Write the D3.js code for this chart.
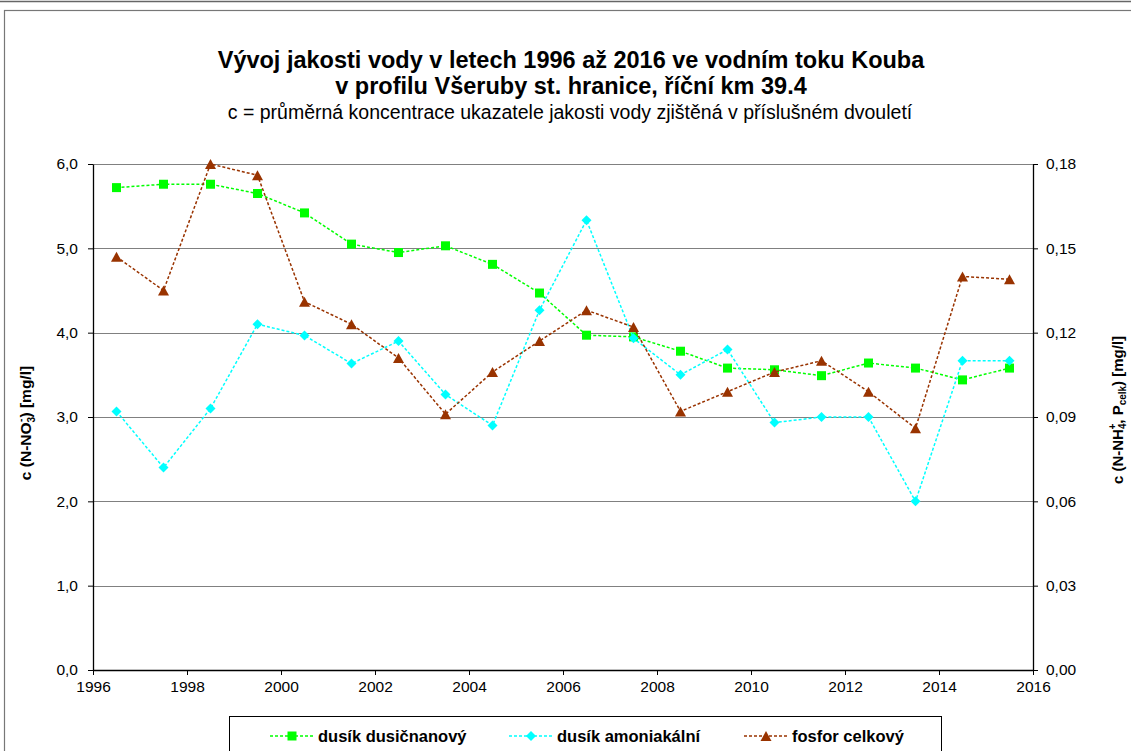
<!DOCTYPE html>
<html>
<head>
<meta charset="utf-8">
<script src="https://cdn.jsdelivr.net/npm/d3@7"></script>
<style>
  html, body { margin: 0; padding: 0; background: #fff; }
  svg { display: block; font-family: "Liberation Sans", Arial, sans-serif; }
</style>
</head>
<body>
<div id="chart"></div>
<script>
/* ---- data ---- */

// mid-points of the two-year periods
const periods = [1996.5, 1997.5, 1998.5, 1999.5, 2000.5, 2001.5, 2002.5, 2003.5, 2004.5, 2005.5,
                 2006.5, 2007.5, 2008.5, 2009.5, 2010.5, 2011.5, 2012.5, 2013.5, 2014.5, 2015.5];

// left axis: dusík dusičnanový [mg/l]
const nitrate = [5.72, 5.76, 5.76, 5.65, 5.42, 5.05, 4.95, 5.03, 4.81, 4.47,
                 3.97, 3.95, 3.78, 3.58, 3.56, 3.49, 3.64, 3.58, 3.44, 3.58];

// right axis: dusík amoniakální [mg/l]
const ammonia = [0.092, 0.072, 0.093, 0.123, 0.119, 0.109, 0.117, 0.098, 0.087, 0.128,
                 0.160, 0.118, 0.105, 0.114, 0.088, 0.090, 0.090, 0.060, 0.110, 0.110];

// right axis: fosfor celkový [mg/l]
const phosphorus = [0.147, 0.135, 0.180, 0.176, 0.131, 0.123, 0.111, 0.091, 0.106, 0.117,
                    0.128, 0.122, 0.092, 0.099, 0.106, 0.110, 0.099, 0.086, 0.140, 0.139];

const xTicks = [1996, 1998, 2000, 2002, 2004, 2006, 2008, 2010, 2012, 2014, 2016];
const leftTicks = [0, 1, 2, 3, 4, 5, 6];
const rightTicks = [0, 0.03, 0.06, 0.09, 0.12, 0.15, 0.18];

const titleLines = [
  "Vývoj jakosti vody v letech 1996 až 2016 ve vodním toku Kouba",
  "v profilu Všeruby st. hranice, říční km 39.4"
];
const subtitle = "c = průměrná koncentrace ukazatele jakosti vody zjištěná v příslušném dvouletí";

const series = [
  { name: "dusík dusičnanový", values: nitrate, axis: "left", color: "#00ff00", marker: "square" },
  { name: "dusík amoniakální", values: ammonia, axis: "right", color: "#00ffff", marker: "diamond" },
  { name: "fosfor celkový", values: phosphorus, axis: "right", color: "#993300", marker: "triangle" }
];

/* ---- setup ---- */

const width = 1131, height = 751;
const plot = { left: 93, right: 1033, top: 164, bottom: 670 };

const svg = d3.select("#chart").append("svg")
  .attr("width", width)
  .attr("height", height);

// outer frame
svg.append("line")
  .attr("x1", 0).attr("x2", width).attr("y1", 1.5).attr("y2", 1.5)
  .attr("stroke", "#666").attr("stroke-width", 1.5);
svg.append("rect")
  .attr("x", 4.5).attr("y", 10.5).attr("width", width + 10).attr("height", height)
  .attr("fill", "none").attr("stroke", "#777").attr("stroke-width", 1.2);

const x = d3.scaleLinear().domain([1996, 2016]).range([plot.left, plot.right]);
const yLeft = d3.scaleLinear().domain([0, 6]).range([plot.bottom, plot.top]);
const yRight = d3.scaleLinear().domain([0, 0.18]).range([plot.bottom, plot.top]);

/* ---- titles ---- */

svg.append("text")
  .attr("x", 571).attr("y", 68)
  .attr("text-anchor", "middle")
  .style("font-size", "23.5px").style("font-weight", "bold")
  .text(titleLines[0]);
svg.append("text")
  .attr("x", 571).attr("y", 94)
  .attr("text-anchor", "middle")
  .style("font-size", "23.5px").style("font-weight", "bold")
  .text(titleLines[1]);
svg.append("text")
  .attr("x", 570).attr("y", 119)
  .attr("text-anchor", "middle")
  .style("font-size", "19.5px")
  .text(subtitle);

/* ---- grid ---- */

svg.append("g")
  .selectAll("line")
  .data(leftTicks.filter(d => d > 0))
  .join("line")
  .attr("x1", plot.left).attr("x2", plot.right)
  .attr("y1", d => Math.round(yLeft(d)) + 0.5)
  .attr("y2", d => Math.round(yLeft(d)) + 0.5)
  .attr("stroke", "#808080").attr("stroke-width", 1.2);

/* ---- axes ---- */

const fmtLeft = d => d3.format(".1f")(d).replace(".", ",");
const fmtRight = d => d3.format(".2f")(d).replace(".", ",");

const axisStyle = g => {
  g.select(".domain").attr("stroke", "#000").attr("stroke-width", 1.3);
  g.selectAll(".tick line").attr("stroke", "#000");
  g.selectAll(".tick text")
    .style("font-size", "15.5px")
    .style("font-family", "'Liberation Sans', Arial, sans-serif")
    .attr("fill", "#000");
};

svg.append("g")
  .attr("transform", `translate(${plot.left},0)`)
  .call(d3.axisLeft(yLeft).tickValues(leftTicks).tickFormat(fmtLeft).tickSize(5).tickSizeOuter(0).tickPadding(10))
  .call(axisStyle);

svg.append("g")
  .attr("transform", `translate(${plot.right},0)`)
  .call(d3.axisRight(yRight).tickValues(rightTicks).tickFormat(fmtRight).tickSize(5).tickSizeOuter(0).tickPadding(8))
  .call(axisStyle);

svg.append("g")
  .attr("transform", `translate(0,${plot.bottom})`)
  .call(d3.axisBottom(x).tickValues(xTicks).tickFormat(d3.format("d")).tickSize(5).tickSizeOuter(0).tickPadding(6))
  .call(axisStyle);

/* ---- axis titles ---- */

const leftTitle = svg.append("text")
  .attr("transform", "translate(31,423) rotate(-90)")
  .attr("text-anchor", "middle")
  .style("font-size", "15.5px").style("font-weight", "bold");
leftTitle.append("tspan").text("c (N-NO");
leftTitle.append("tspan").attr("dy", 4).style("font-size", "10px").text("3");
leftTitle.append("tspan").attr("dy", -11).attr("dx", -5).style("font-size", "10px").text("-");
leftTitle.append("tspan").attr("dy", 7).attr("dx", 1).text(") [mg/l]");

const rightTitle = svg.append("text")
  .attr("transform", "translate(1123,410) rotate(-90)")
  .attr("text-anchor", "middle")
  .style("font-size", "15px").style("font-weight", "bold");
rightTitle.append("tspan").text("c (N-NH");
rightTitle.append("tspan").attr("dy", 3).style("font-size", "10px").text("4");
rightTitle.append("tspan").attr("dy", -10).attr("dx", -6).style("font-size", "10px").text("+");
rightTitle.append("tspan").attr("dy", 7).text(", P");
rightTitle.append("tspan").attr("dy", 3).style("font-size", "10px").text("celk");
rightTitle.append("tspan").attr("dy", -3).text(") [mg/l]");

/* ---- series ---- */

const markerPath = (type, s) => {
  if (type === "square") return d3.symbol(d3.symbolSquare, s * s)();
  if (type === "diamond") return `M0,${-s / 2}L${s / 2},0L0,${s / 2}L${-s / 2},0Z`;
  return `M0,${-s / 2}L${s * 0.55},${s / 2}L${-s * 0.55},${s / 2}Z`;
};
const markerSize = { square: 9, diamond: 10, triangle: 10 };

series.forEach(s => {
  const y = s.axis === "left" ? yLeft : yRight;
  const pts = periods.map((p, i) => [x(p), y(s.values[i])]);

  svg.append("path")
    .attr("d", d3.line()(pts))
    .attr("fill", "none")
    .attr("stroke", s.color)
    .attr("stroke-width", 1.5)
    .attr("stroke-dasharray", "3,2");

  svg.append("g")
    .selectAll("path")
    .data(pts)
    .join("path")
    .attr("transform", d => `translate(${d[0]},${d[1]})`)
    .attr("d", markerPath(s.marker, markerSize[s.marker]))
    .attr("fill", s.color);
});

/* ---- legend ---- */

const legend = svg.append("g");
legend.append("rect")
  .attr("x", 229.5).attr("y", 716.5).attr("width", 712).attr("height", 50)
  .attr("fill", "#fff").attr("stroke", "#000").attr("stroke-width", 1);

const legendX = [270, 509, 744];
series.forEach((s, i) => {
  const lx = legendX[i];
  legend.append("line")
    .attr("x1", lx).attr("x2", lx + 44).attr("y1", 736).attr("y2", 736)
    .attr("stroke", s.color).attr("stroke-width", 1.5).attr("stroke-dasharray", "3,2");
  legend.append("path")
    .attr("transform", `translate(${lx + 22},736)`)
    .attr("d", markerPath(s.marker, markerSize[s.marker]))
    .attr("fill", s.color);
  legend.append("text")
    .attr("x", lx + 48).attr("y", 742)
    .style("font-size", "16.5px").style("font-weight", "bold")
    .text(s.name);
});
</script>
</body>
</html>
